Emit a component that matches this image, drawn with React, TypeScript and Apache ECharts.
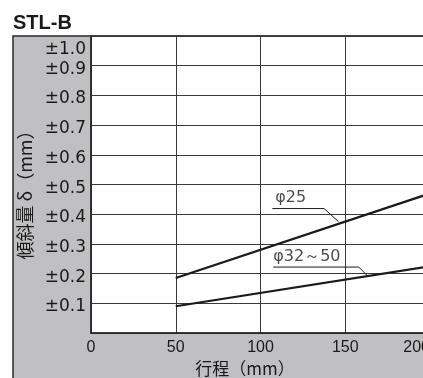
import React, { useEffect, useRef } from "react";
import * as echarts from "echarts";

const strokeX = [50, 200];
const phi25 = [0.185, 0.47];
const phi32 = [0.09, 0.225];
const xTicks = [0, 50, 100, 150, 200];
const annotationNames = ["φ25", "φ32～50"];
const annotationX = [108.7, 107.5];
const annotationY = [0.458, 0.26];
const leader25X = [107, 137.5, 146];
const leader25Y = [0.419, 0.419, 0.375];
const leader32X = [107.5, 158, 163];
const leader32Y = [0.222, 0.222, 0.193];

const SANS = "'Liberation Sans', Arial, sans-serif";
const DEJA = "'DejaVu Sans', sans-serif";
const CJK = "'Noto Sans CJK JP', sans-serif";
const INK = "#1a1a1a";

export default function App() {
  const ref = useRef<HTMLDivElement>(null);
  useEffect(() => {
    if (!ref.current) return;
    const chart = echarts.init(ref.current, null, { renderer: "svg" });
    const pairs = (xs: number[], ys: number[]) => xs.map((x, i) => [x, ys[i]]);
    chart.setOption({
      animation: false,
      graphic: [
        {
          type: "rect",
          z: -10,
          shape: { x: 13, y: 36, width: 440, height: 380 },
          style: { fill: "#c0c0c2", stroke: "#2a2a2a", lineWidth: 1.5 },
        },
        {
          type: "text",
          left: 13,
          top: 12,
          style: { text: "STL-B", font: `bold 20px ${SANS}`, fill: INK },
        },
      ],
      grid: {
        left: 91,
        top: 36,
        right: -7,
        bottom: 45,
        containLabel: false,
        outerBoundsMode: "none",
        show: true,
        backgroundColor: "#fff",
        borderColor: "#222",
        borderWidth: 1,
      },
      xAxis: {
        type: "value",
        min: 0,
        max: 200,
        interval: 50,
        name: "行程（mm）",
        nameLocation: "middle",
        nameGap: 25,
        nameTextStyle: { fontSize: 17, color: INK, fontFamily: CJK, padding: [0, 31, 0, 0] },
        axisLine: { show: true, lineStyle: { color: "#222", width: 1.5 } },
        axisTick: { show: false },
        axisLabel: {
          margin: 5,
          fontSize: 16,
          color: INK,
          fontFamily: SANS,
          alignMaxLabel: "right",
          hideOverlap: false,
          formatter: (v: number) => (xTicks.includes(v) ? String(v) : ""),
        },
        splitLine: { show: true, lineStyle: { color: "#3a3a3a", width: 1 } },
      },
      yAxis: {
        type: "value",
        min: 0,
        max: 1.0,
        interval: 0.1,
        name: "傾斜量 δ（mm）",
        nameLocation: "middle",
        nameGap: 58,
        nameRotate: 90,
        nameTextStyle: { fontSize: 18, color: INK, fontFamily: CJK, padding: [0, 12, 0, 0] },
        axisLine: { show: true, lineStyle: { color: "#222", width: 1.5 } },
        axisTick: { show: false },
        axisLabel: {
          margin: 5,
          fontSize: 17,
          lineHeight: 12,
          color: INK,
          fontFamily: DEJA,
          padding: [4, 0, 0, 0],
          showMaxLabel: true,
          hideOverlap: false,
          verticalAlignMaxLabel: "top",
          formatter: (v: number) =>
            v === 0 ? "" : v >= 1 ? "{top|±" + v.toFixed(1) + "}" : "±" + v.toFixed(1),
          rich: {
            top: {
              padding: [3, 0, 0, 0],
              fontSize: 17,
              lineHeight: 12,
              color: INK,
              fontFamily: DEJA,
            },
          },
        },
        splitLine: { show: true, lineStyle: { color: "#3a3a3a", width: 1 } },
      },
      series: [
        {
          type: "line",
          data: pairs(strokeX, phi25),
          showSymbol: false,
          lineStyle: { color: INK, width: 2.2 },
        },
        {
          type: "line",
          data: pairs(strokeX, phi32),
          showSymbol: false,
          lineStyle: { color: INK, width: 2.2 },
        },
        {
          type: "line",
          data: pairs(leader25X, leader25Y),
          showSymbol: false,
          lineStyle: { color: INK, width: 1 },
        },
        {
          type: "line",
          data: pairs(leader32X, leader32Y),
          showSymbol: false,
          lineStyle: { color: INK, width: 1 },
        },
        {
          type: "scatter",
          symbolSize: 0,
          data: annotationNames.map((n, i) => ({ name: n, value: [annotationX[i], annotationY[i]] })),
          label: {
            show: true,
            position: "right",
            distance: 0,
            formatter: (p: any) => p.name,
            fontSize: 16,
            color: INK,
            fontFamily: DEJA,
          },
        },
      ],
    });
    return () => chart.dispose();
  }, []);
  return (
    <div
      ref={ref}
      style={{ position: "fixed", left: 0, top: 0, width: 423, height: 378 }}
    />
  );
}
